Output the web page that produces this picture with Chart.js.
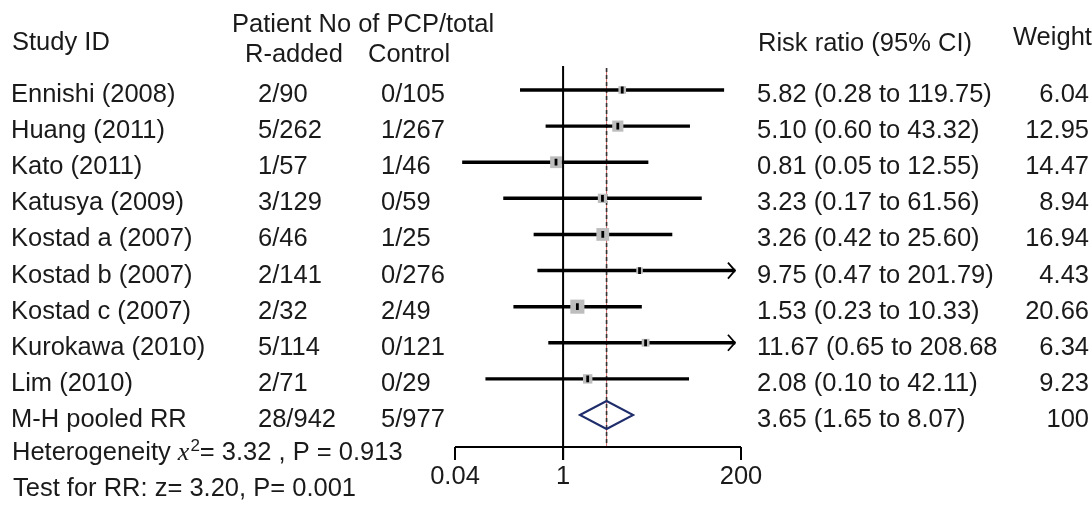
<!DOCTYPE html>
<html>
<head>
<meta charset="utf-8">
<script src="https://cdn.jsdelivr.net/npm/chart.js@4.4.1/dist/chart.umd.min.js"></script>
<style>
  html, body { margin: 0; padding: 0; background: #fff; }
  #wrap { width: 1092px; height: 508px; position: relative; }
</style>
</head>
<body>
<div id="wrap"><canvas id="forest"></canvas></div>
<script>
// rows of the forest plot (last one is the pooled estimate)
const studies = ["Ennishi (2008)", "Huang (2011)", "Kato (2011)", "Katusya (2009)", "Kostad a (2007)",
                 "Kostad b (2007)", "Kostad c (2007)", "Kurokawa (2010)", "Lim (2010)", "M-H pooled RR"];
const rAdded = ["2/90", "5/262", "1/57", "3/129", "6/46", "2/141", "2/32", "5/114", "2/71", "28/942"];
const control = ["0/105", "1/267", "1/46", "0/59", "1/25", "0/276", "2/49", "0/121", "0/29", "5/977"];
const rr = [5.82, 5.10, 0.81, 3.23, 3.26, 9.75, 1.53, 11.67, 2.08, 3.65];
const ciLow = [0.28, 0.60, 0.05, 0.17, 0.42, 0.47, 0.23, 0.65, 0.10, 1.65];
const ciHigh = [119.75, 43.32, 12.55, 61.56, 25.60, 201.79, 10.33, 208.68, 42.11, 8.07];
const weights = [6.04, 12.95, 14.47, 8.94, 16.94, 4.43, 20.66, 6.34, 9.23, 100];
const weightText = ["6.04", "12.95", "14.47", "8.94", "16.94", "4.43", "20.66", "6.34", "9.23", "100"];
const ciText = ["5.82 (0.28 to 119.75)", "5.10 (0.60 to 43.32)", "0.81 (0.05 to 12.55)", "3.23 (0.17 to 61.56)",
                "3.26 (0.42 to 25.60)", "9.75 (0.47 to 201.79)", "1.53 (0.23 to 10.33)", "11.67 (0.65 to 208.68",
                "2.08 (0.10 to 42.11)", "3.65 (1.65 to 8.07)"];
const xTicks = [0.04, 1, 200];
const xTickLabels = ["0.04", "1", "200"];
const pooled = studies.length - 1;
const arrowCap = 167; // where the clipped CIs get an arrow

const FONT = '25.5px "Liberation Sans", Arial, sans-serif';

const studyRows = studies.slice(0, pooled);

const forestPlugin = {
  id: 'forest',
  beforeDatasetsDraw(chart) {
    const ctx = chart.ctx, x = chart.scales.x, y = chart.scales.y;
    const top = y.getPixelForValue(0) - 24;
    const axisY = y.getPixelForValue(pooled) + 32;
    ctx.save();
    // line of no effect
    ctx.strokeStyle = '#000';
    ctx.lineWidth = 2;
    ctx.beginPath();
    ctx.moveTo(x.getPixelForValue(1), top);
    ctx.lineTo(x.getPixelForValue(1), axisY + 13);
    ctx.stroke();
    // pooled estimate line
    const px = x.getPixelForValue(rr[pooled]);
    ctx.strokeStyle = '#c66';
    ctx.lineWidth = 1;
    ctx.beginPath();
    ctx.moveTo(px, top + 2);
    ctx.lineTo(px, axisY);
    ctx.stroke();
    ctx.strokeStyle = '#333';
    ctx.lineWidth = 1.6;
    ctx.setLineDash([4, 3]);
    ctx.beginPath();
    ctx.moveTo(px, top + 2);
    ctx.lineTo(px, axisY);
    ctx.stroke();
    ctx.setLineDash([]);
    // x axis
    ctx.strokeStyle = '#000';
    ctx.lineWidth = 2;
    ctx.beginPath();
    ctx.moveTo(x.getPixelForValue(xTicks[0]), axisY);
    ctx.lineTo(x.getPixelForValue(xTicks[2]), axisY);
    xTicks.forEach(t => {
      ctx.moveTo(x.getPixelForValue(t), axisY);
      ctx.lineTo(x.getPixelForValue(t), axisY + 13);
    });
    ctx.stroke();
    ctx.restore();
  },
  afterDatasetsDraw(chart) {
    const ctx = chart.ctx, x = chart.scales.x, y = chart.scales.y;
    ctx.save();
    // arrows for CIs running off the scale
    ctx.strokeStyle = '#000';
    ctx.lineWidth = 1.8;
    studyRows.forEach((s, i) => {
      if (ciHigh[i] <= arrowCap) return;
      const tx = x.getPixelForValue(arrowCap), ty = y.getPixelForValue(i);
      ctx.beginPath();
      ctx.moveTo(tx - 7, ty - 8);
      ctx.lineTo(tx, ty);
      ctx.lineTo(tx - 7, ty + 8);
      ctx.stroke();
    });
    // pooled diamond
    const dy = y.getPixelForValue(pooled);
    ctx.strokeStyle = '#1f2d6b';
    ctx.lineWidth = 2;
    ctx.beginPath();
    ctx.moveTo(x.getPixelForValue(ciLow[pooled]), dy);
    ctx.lineTo(x.getPixelForValue(rr[pooled]), dy - 14);
    ctx.lineTo(x.getPixelForValue(ciHigh[pooled]), dy);
    ctx.lineTo(x.getPixelForValue(rr[pooled]), dy + 14);
    ctx.closePath();
    ctx.stroke();
    ctx.restore();
  },
  afterDraw(chart) {
    const ctx = chart.ctx, x = chart.scales.x, y = chart.scales.y;
    const axisY = y.getPixelForValue(pooled) + 32;
    ctx.save();
    ctx.fillStyle = '#1a1a1a';
    ctx.font = FONT;
    ctx.textBaseline = 'alphabetic';
    ctx.textAlign = 'left';
    // headers
    ctx.fillText('Study ID', 12, 50);
    ctx.fillText('Patient No of PCP/total', 232, 32);
    ctx.fillText('R-added', 245, 62);
    ctx.fillText('Control', 368, 62);
    ctx.fillText('Risk ratio (95% CI)', 758, 51);
    ctx.fillText('Weight', 1013, 45);
    // table rows
    studies.forEach((s, i) => {
      const by = y.getPixelForValue(i) + 12;
      ctx.textAlign = 'left';
      ctx.fillText(s, 11, by);
      ctx.fillText(rAdded[i], 258, by);
      ctx.fillText(control[i], 381, by);
      ctx.fillText(ciText[i], 757, by);
      ctx.textAlign = 'right';
      ctx.fillText(weightText[i], 1089, by);
    });
    // tick labels
    ctx.textAlign = 'center';
    xTicks.forEach((t, k) => ctx.fillText(xTickLabels[k], x.getPixelForValue(t), axisY + 37));
    // heterogeneity and test lines
    ctx.textAlign = 'left';
    let hx = 12;
    const hy = axisY + 13;
    const part1 = 'Heterogeneity ';
    ctx.fillText(part1, hx, hy);
    hx += ctx.measureText(part1).width;
    ctx.font = 'italic 26px "Liberation Serif", "Times New Roman", serif';
    ctx.fillText('x', hx, hy);
    hx += ctx.measureText('x').width + 1;
    ctx.font = '17px "Liberation Sans", Arial, sans-serif';
    ctx.fillText('2', hx, hy - 9);
    hx += ctx.measureText('2').width;
    ctx.font = FONT;
    ctx.fillText('= 3.32 , P = 0.913', hx, hy);
    ctx.fillText('Test for RR: z= 3.20, P= 0.001', 13, axisY + 49);
    ctx.restore();
  }
};

new Chart(document.getElementById('forest'), {
  type: 'bar',
  data: {
    labels: studies,
    datasets: [{
      label: 'CI',
      indexAxis: 'y',
      data: studyRows.map((s, i) => [ciLow[i], Math.min(ciHigh[i], arrowCap)]),
      backgroundColor: '#000',
      borderWidth: 0,
      barThickness: 2.8,
      order: 3
    }, {
      type: 'scatter',
      label: 'weight box',
      indexAxis: 'x',
      data: studyRows.map((s, i) => ({ x: rr[i], y: s })),
      pointStyle: 'rect',
      pointRadius: studyRows.map((s, i) => 3.1 * Math.sqrt(weights[i]) / Math.SQRT2),
      backgroundColor: '#bdbdbd',
      borderWidth: 0,
      order: 2
    }, {
      type: 'scatter',
      label: 'estimate',
      indexAxis: 'x',
      data: studyRows.map((s, i) => ({ x: rr[i], y: s })),
      pointStyle: 'line',
      rotation: 90,
      pointRadius: 3.4,
      borderColor: '#000',
      borderWidth: 2.8,
      order: 1
    }]
  },
  options: {
    indexAxis: 'y',
    responsive: true,
    maintainAspectRatio: false,
    animation: false,
    events: [],
    layout: { padding: { left: 455, right: 351, top: 71.94, bottom: 74.94 } },
    plugins: { legend: { display: false }, tooltip: { enabled: false } },
    scales: {
      x: { type: 'logarithmic', min: 0.04, max: 200, display: false },
      y: { type: 'category', display: false, offset: true, grid: { display: false } }
    }
  },
  plugins: [forestPlugin]
});
</script>
</body>
</html>
